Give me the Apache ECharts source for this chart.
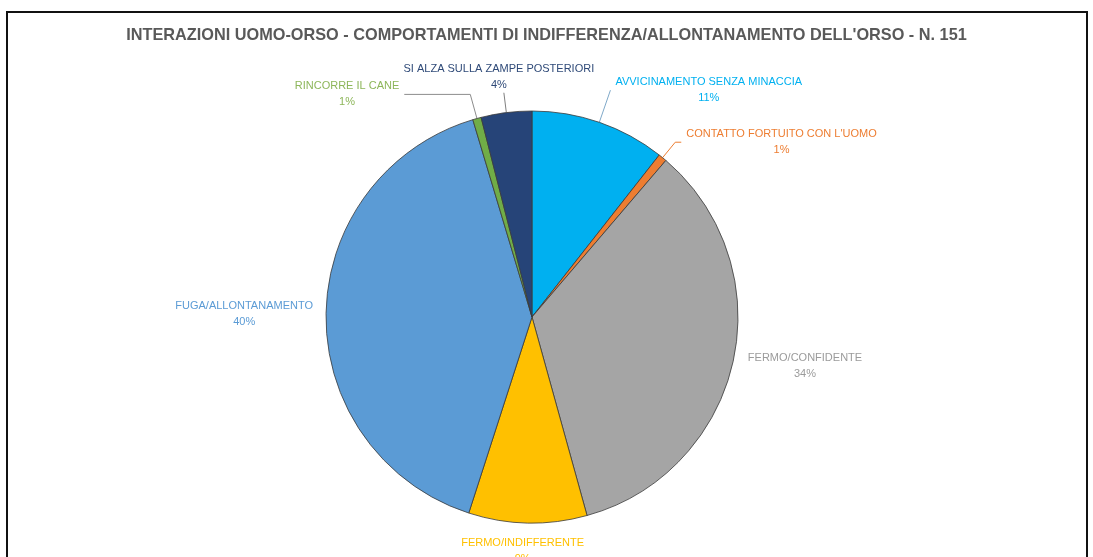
<!DOCTYPE html>
<html lang="it">
<head>
    <meta charset="UTF-8">
    <title>Interazioni uomo-orso</title>
    <script src="https://cdn.jsdelivr.net/npm/echarts@6/dist/echarts.min.js"></script>
    <style>
        html, body {
            margin: 0;
            padding: 0;
            background-color: #ffffff;
        }
        #main {
            width: 1093px;
            height: 557px;
        }
    </style>
</head>
<body>

<div id="main"></div>

<script>
    // dati (totale 151 interazioni)
    var titolo = "INTERAZIONI UOMO-ORSO - COMPORTAMENTI DI INDIFFERENZA/ALLONTANAMENTO DELL'ORSO - N. 151";
    var categorie = [
        'AVVICINAMENTO SENZA MINACCIA',
        "CONTATTO FORTUITO CON L'UOMO",
        'FERMO/CONFIDENTE',
        'FERMO/INDIFFERENTE',
        'FUGA/ALLONTANAMENTO',
        'RINCORRE IL CANE',
        'SI ALZA SULLA ZAMPE POSTERIORI'
    ];
    var valori = [16, 1, 52, 14, 61, 1, 6];

    // stile di ogni fetta: colore, colore etichetta, linea guida
    var stile = {
        'AVVICINAMENTO SENZA MINACCIA': { colore: '#00B0F0', testo: '#00B0F0', linea: '#7fa9c9', len: 34, len2: 0 },
        "CONTATTO FORTUITO CON L'UOMO": { colore: '#ED7D31', testo: '#ED7D31', linea: '#ED7D31', len: 20, len2: 6 },
        'FERMO/CONFIDENTE': { colore: '#A5A5A5', testo: '#9b9b9b', linea: null, len: 10, len2: 0, layout: { dy: 2 } },
        'FERMO/INDIFFERENTE': { colore: '#FFC000', testo: '#FFC000', linea: null, len: 5, len2: 0, layout: { align: 'center', verticalAlign: 'top', dy: 7 } },
        'FUGA/ALLONTANAMENTO': { colore: '#5B9BD5', testo: '#5B9BD5', linea: null, len: 8, len2: 0, layout: { dy: -1 } },
        'RINCORRE IL CANE': { colore: '#70AD47', testo: '#8db65a', linea: '#8c8c8c', len: 25, len2: 66 },
        'SI ALZA SULLA ZAMPE POSTERIORI': { colore: '#264478', testo: '#2f4a78', linea: '#7f7f7f', len: 20, len2: 0, layout: { align: 'center', verticalAlign: 'bottom' } }
    };

    var myChart = echarts.init(document.getElementById('main'));

    var dati = categorie.map(function (nome, i) {
        var s = stile[nome];
        return {
            name: nome,
            value: valori[i],
            itemStyle: { color: s.colore },
            label: { color: s.testo },
            labelLine: {
                show: s.linea !== null,
                length: s.len,
                length2: s.len2,
                lineStyle: { color: s.linea || '#999', width: 1 }
            }
        };
    });

    var option = {
        animation: false,
        backgroundColor: '#ffffff',
        title: {
            text: titolo,
            left: 'center',
            top: 23,
            textStyle: {
                fontFamily: 'Liberation Sans',
                fontSize: 16.3,
                fontWeight: 'bold',
                color: '#595959'
            }
        },
        graphic: [
            {
                type: 'rect',
                silent: true,
                z: -1,
                shape: { x: 7, y: 12, width: 1080, height: 600 },
                style: { fill: 'none', stroke: '#111111', lineWidth: 2 }
            }
        ],
        series: [
            {
                name: 'Comportamenti',
                type: 'pie',
                center: [532, 317],
                radius: 206,
                startAngle: 90,
                clockwise: true,
                avoidLabelOverlap: false,
                percentPrecision: 0,
                itemStyle: {
                    borderColor: '#3a3a3a',
                    borderWidth: 0.8
                },
                label: {
                    show: true,
                    position: 'outside',
                    fontFamily: 'Liberation Sans',
                    fontSize: 11,
                    distanceToLabelLine: 5,
                    formatter: '{t|{b}}\n{t|{d}%}',
                    rich: {
                        t: {
                            align: 'center',
                            lineHeight: 16,
                            fontFamily: 'Liberation Sans',
                            fontSize: 11
                        }
                    }
                },
                labelLayout: function (params) {
                    var s = stile[categorie[params.dataIndex]];
                    return s.layout || {};
                },
                emphasis: { disabled: true },
                data: dati
            }
        ]
    };

    myChart.setOption(option);
</script>

</body>
</html>
